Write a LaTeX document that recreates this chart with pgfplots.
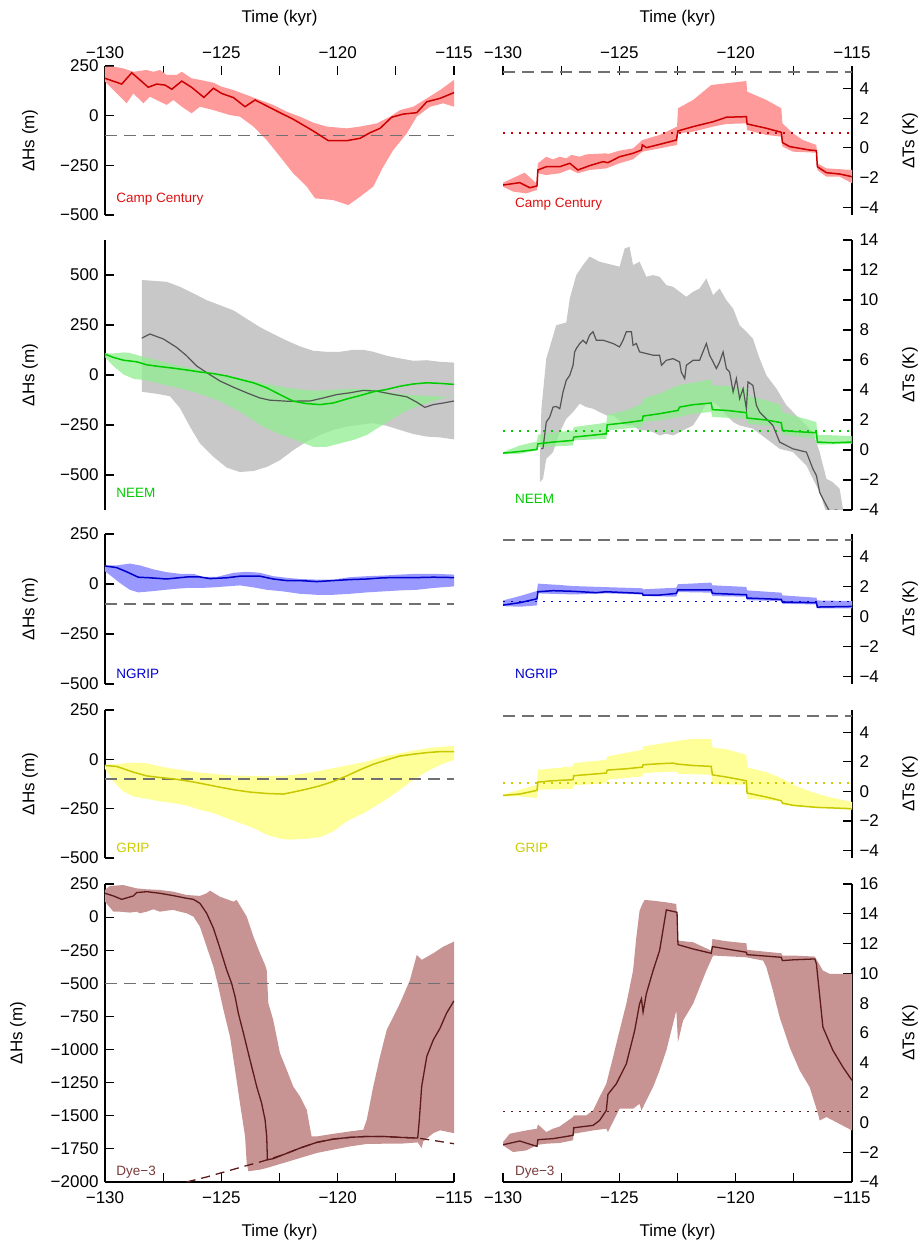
\documentclass[border=0pt]{standalone}
\usepackage{fontspec}
\setmainfont{Liberation Sans}
\usepackage{pgfplots}
\pgfplotsset{compat=1.18}
\definecolor{ccline}{HTML}{CC0000}
\definecolor{ccfill}{HTML}{FF9A9A}
\definecolor{cclab}{HTML}{DD1111}
\definecolor{neemline}{HTML}{00CC00}
\definecolor{neemfill}{HTML}{90EE90}
\definecolor{grayfill}{HTML}{C8C8C8}
\definecolor{grayline}{HTML}{555555}
\definecolor{ngripline}{HTML}{0000CC}
\definecolor{ngripfill}{HTML}{9999FF}
\definecolor{gripline}{HTML}{C8C800}
\definecolor{gripfill}{HTML}{FFFF99}
\definecolor{griplab}{HTML}{CCCC00}
\definecolor{dyeline}{HTML}{5C1A1A}
\definecolor{dyefill}{HTML}{C79393}
\definecolor{dyelab}{HTML}{7A3A3A}
\definecolor{dashgray}{HTML}{707070}
\newcommand{\tf}{\fontsize{17}{20}\selectfont}
\newcommand{\sitef}{\fontsize{13.5}{16}\selectfont}
\tikzset{site/.style={anchor=west, inner sep=0pt, font=\sitef}}
\pgfplotsset{
  base/.style={scale only axis, width=349pt, xmin=-130, xmax=-115, anchor=south west,
    tick align=inside, major tick length=9pt, minor tick length=0pt,
    axis line style={line width=1.3pt},
    every tick/.style={black, line width=1.1pt},
    tick label style={font=\tf},
    xtick={-130,-127.5,...,-115}, xticklabels={−130,,−125,,−120,,−115}},
  leftp/.style={base, axis y line*=left, ylabel={ΔHs (m)},
    yticklabel style={xshift=-3pt},
    every axis y label/.style={at={(rel axis cs:0,0.5)}, xshift=-75pt, rotate=90, anchor=center, font=\tf}},
  rightp/.style={base, axis y line*=right, ylabel={ΔTs (K)},
    yticklabel style={xshift=4pt},
    every axis y label/.style={at={(rel axis cs:1,0.5)}, xshift=58pt, rotate=90, anchor=center, font=\tf}},
  toprow/.style={axis x line*=top, x axis line style={draw=none}, xlabel={Time (kyr)},
    every axis x label/.style={at={(rel axis cs:0.5,1)}, yshift=48pt, anchor=center, font=\tf},
    xticklabel style={yshift=4pt}},
  midrow/.style={axis x line=none},
  botrow/.style={axis x line*=bottom, xlabel={Time (kyr)},
    every axis x label/.style={at={(rel axis cs:0.5,0)}, yshift=-50pt, anchor=center, font=\tf},
    xticklabel style={yshift=-6pt}},
  hs/.style={ymin=-500, ymax=250, ytick={-500,-250,0,250}, yticklabels={−500,−250,0,250}},
  ts/.style={ymin=-4.5, ymax=5.5, ytick={-4,-2,0,2,4}, yticklabels={−4,−2,0,2,4}},
  dashg/.style={color=dashgray, line width=1.6pt, dash pattern=on 12pt off 7pt},
  dotl/.style={line width=1.6pt, dash pattern=on 1.6pt off 6.4pt},
  ser/.style={line width=1.5pt},
}
\begin{document}
\begin{tikzpicture}
\path[use as bounding box] (0,0) rectangle (922pt,1243pt);

% ================= Row 1: Camp Century =================
\begin{axis}[leftp, toprow, hs, at={(105pt,1028pt)}, height=149pt]
\addplot[draw=none, fill=ccfill] coordinates {
(-130,247) (-129.64,247) (-129.21,238) (-128.78,221) (-128.21,230) (-127.92,221) (-127.64,230) (-127.35,205) (-126.92,205) (-126.70,221) (-126.28,188) (-125.92,180) (-125.34,166) (-124.99,146) (-124.48,129) (-123.91,104) (-123.34,79) (-122.77,54) (-122.19,20) (-121.62,-5) (-121.05,-35) (-120.47,-55) (-119.61,-64) (-119.04,-55) (-118.32,-39) (-117.75,-5) (-117.32,28) (-116.75,45) (-116.17,87) (-115.60,129) (-115,180)
(-115,45) (-115.46,62) (-116.03,45) (-116.60,-5) (-117.03,-89) (-117.61,-173) (-118.04,-257) (-118.47,-357) (-119.04,-408) (-119.54,-450) (-120.19,-425) (-120.97,-416) (-121.33,-357) (-121.91,-290) (-122.48,-206) (-123.05,-123) (-123.62,-55) (-124.20,-5) (-124.63,3) (-125.34,28) (-125.92,45) (-126.28,12) (-126.70,45) (-127.06,79) (-127.35,54) (-127.78,79) (-128.07,96) (-128.35,62) (-128.78,112) (-129.07,62) (-129.64,129) (-130,171)
} --cycle;
\addplot[dashg] coordinates {(-130,-100) (-115,-100)};
\addplot[ser, ccline] coordinates {
(-130,188) (-129.28,159) (-128.85,216) (-128.14,143) (-127.78,159) (-127.42,154) (-127.13,133) (-126.70,174) (-126.28,143) (-125.75,92) (-125.34,138) (-124.99,112) (-124.48,91) (-123.98,45) (-123.55,79) (-123.05,49) (-122.48,15) (-121.91,-18) (-121.05,-77) (-120.40,-126) (-119.61,-126) (-119.04,-114) (-118.61,-86) (-118.18,-64) (-117.68,-8) (-117.18,8) (-116.60,15) (-116.17,70) (-115.60,87) (-115,116)};
\node[site, text=cclab] at (rel axis cs:0.032,0.107) {Camp Century};
\end{axis}

\begin{axis}[rightp, toprow, ts, at={(503pt,1028pt)}, height=149pt]
\addplot[draw=none, fill=ccfill] coordinates {
(-130,-2.33) (-129.07,-1.66) (-128.57,-2.37) (-128.50,-1.03) (-128.14,-0.59) (-127.85,-0.77) (-127.56,-0.59) (-127.28,-0.70) (-127.06,-0.47) (-126.70,-0.59) (-126.42,-0.43) (-126.13,-0.41) (-125.56,-0.36) (-125.49,-0.41) (-124.99,-0.18) (-124.41,-0.03) (-124.01,0.53) (-123.27,0.87) (-122.52,1.43) (-122.48,2.66) (-121.83,3.22) (-121.05,4.22) (-120.40,4.34) (-119.54,4.49) (-119.51,3.78) (-118.68,3.22) (-118.04,2.66) (-117.99,1.65) (-117.54,0.98) (-117.11,0.53) (-116.53,0.20) (-116.49,-1.03) (-116.10,-1.37) (-115,-1.48)
(-115,-2.37) (-115.53,-1.93) (-116.10,-1.93) (-116.49,-1.48) (-116.53,-0.32) (-117.54,-0.25) (-117.99,0.09) (-118.04,0.76) (-118.68,0.87) (-119.51,1.20) (-119.54,1.65) (-120.40,1.61) (-120.97,1.43) (-121.83,1.09) (-122.48,0.98) (-122.52,0.20) (-123.27,-0.03) (-124.01,-0.25) (-124.41,-0.76) (-124.99,-1.03) (-125.56,-1.37) (-126.28,-1.48) (-126.78,-1.70) (-127.13,-1.44) (-127.56,-1.70) (-128.14,-1.82) (-128.50,-1.70) (-128.54,-2.82) (-129.0,-3.05) (-129.57,-2.93) (-130,-2.60)
} --cycle;
\addplot[dashg] coordinates {(-130,5.1) (-115,5.1)};
\addplot[dotl, ccline] coordinates {(-130,1.0) (-115,1.0)};
\addplot[ser, ccline] coordinates {
(-130,-2.49) (-129.28,-2.33) (-128.85,-2.67) (-128.54,-2.55) (-128.50,-1.48) (-128.14,-1.26) (-127.56,-1.26) (-127.13,-1.03) (-126.78,-1.48) (-126.28,-1.19) (-125.70,-0.92) (-125.49,-0.99) (-124.99,-0.59) (-124.41,-0.36) (-124.05,-0.14) (-124.01,0.20) (-123.84,0.02) (-123.27,0.24) (-122.55,0.53) (-122.48,1.14) (-121.83,1.43) (-120.97,1.76) (-120.40,2.06) (-119.54,2.10) (-119.51,1.61) (-118.68,1.32) (-118.04,1.05) (-117.99,0.36) (-117.68,0.09) (-116.82,-0.14) (-116.53,-0.18) (-116.49,-1.26) (-116.10,-1.66) (-115.53,-1.75) (-115,-1.93)};
\node[site, text=cclab] at (rel axis cs:0.034,0.074) {Camp Century};
\end{axis}

% ================= Row 2: NEEM =================
\begin{axis}[leftp, midrow, at={(105pt,733pt)}, height=270pt, ymin=-675, ymax=675,
  ytick={-500,-250,0,250,500}, yticklabels={−500,−250,0,250,500}]
\addplot[draw=none, fill=grayfill] coordinates {
(-128.42,475) (-127.35,466) (-126.78,441) (-126.20,408) (-125.63,374) (-125.06,349) (-124.48,323) (-123.91,281) (-123.34,239) (-122.77,205) (-122.19,172) (-121.62,143) (-121.05,121) (-120.47,116) (-119.90,116) (-119.33,126) (-118.90,126) (-118.47,116) (-117.89,96) (-117.32,83) (-116.75,71) (-116.17,74) (-115.60,66) (-115,62)
(-115,-322) (-115.60,-312) (-116.17,-308) (-116.75,-295) (-117.32,-275) (-117.89,-254) (-118.47,-241) (-119.04,-249) (-119.61,-258) (-120.19,-275) (-120.76,-300) (-121.33,-333) (-121.91,-376) (-122.48,-426) (-123.05,-460) (-123.62,-480) (-124.20,-485) (-124.77,-463) (-125.34,-409) (-125.92,-342) (-126.35,-258) (-126.78,-165) (-127.21,-106) (-127.78,-94) (-128.42,-84)
} --cycle;
\addplot[draw=none, fill=neemfill, fill opacity=0.75] coordinates {
(-130,109) (-129.64,108) (-129.21,113) (-128.93,110) (-128.50,96) (-127.92,79) (-127.35,62) (-126.78,45) (-126.20,32) (-125.63,17) (-125.06,3) (-124.48,-8) (-123.91,-22) (-123.34,-39) (-122.77,-51) (-122.19,-64) (-121.62,-72) (-121.05,-79) (-120.47,-76) (-119.90,-72) (-119.33,-69) (-118.75,-69) (-118.18,-76) (-117.61,-89) (-117.03,-98) (-116.46,-103) (-115.89,-106) (-115.46,-109) (-115,-109)
(-115,-106) (-115.46,-115) (-115.89,-131) (-116.46,-153) (-117.03,-178) (-117.61,-216) (-118.18,-258) (-118.75,-300) (-119.33,-325) (-119.90,-342) (-120.47,-359) (-121.05,-359) (-121.62,-333) (-122.19,-308) (-122.77,-283) (-123.34,-249) (-123.91,-204) (-124.48,-165) (-125.06,-131) (-125.63,-106) (-126.20,-84) (-126.78,-67) (-127.35,-52) (-127.92,-35) (-128.35,-25) (-128.78,-19) (-129.21,3) (-129.64,45) (-130,88)
} --cycle;
\addplot[line width=1.2pt, grayline] coordinates {
(-128.42,184) (-128.07,205) (-127.49,180) (-126.92,138) (-126.49,96) (-126.06,45) (-125.63,12) (-125.06,-30) (-124.48,-61) (-123.91,-89) (-123.34,-115) (-122.91,-126) (-122.19,-131) (-121.19,-130) (-120.62,-115) (-120.04,-98) (-119.47,-89) (-118.90,-77) (-118.32,-81) (-117.75,-94) (-117.03,-109) (-116.60,-136) (-116.25,-162) (-115.89,-148) (-115.46,-140) (-115,-130)};
\addplot[ser, neemline] coordinates {
(-130,104) (-129.64,88) (-129.21,74) (-128.64,66) (-128.21,51) (-127.64,42) (-127.06,34) (-126.49,25) (-125.92,15) (-125.34,7) (-124.77,-5) (-124.20,-22) (-123.62,-39) (-123.05,-64) (-122.48,-98) (-121.91,-131) (-121.33,-143) (-120.76,-148) (-120.19,-140) (-119.61,-120) (-119.04,-103) (-118.47,-84) (-117.89,-72) (-117.32,-56) (-116.75,-45) (-116.17,-39) (-115.60,-42) (-115,-47)};
\node[site, text=neemline] at (rel axis cs:0.032,0.063) {NEEM};
\end{axis}

\begin{axis}[rightp, midrow, at={(503pt,733pt)}, height=270pt, ymin=-4, ymax=14,
  ytick={-4,-2,...,14}, yticklabels={−4,−2,0,2,4,6,8,10,12,14}]
\addplot[draw=none, fill=grayfill] coordinates {
(-128.42,-1.03) (-128.35,2.75) (-128.14,6.09) (-127.71,8.32) (-127.28,8.5) (-127.13,10.10) (-126.85,11.66) (-126.56,12.33) (-126.28,12.89) (-126.13,12.78) (-125.85,12.55) (-125.56,12.44) (-125.27,12.33) (-124.99,12.22) (-124.77,13.44) (-124.56,13.55) (-124.41,12.33) (-124.13,12.55) (-123.84,11.55) (-123.55,11.66) (-123.27,11.55) (-122.98,10.99) (-122.69,10.88) (-122.41,10.55) (-122.12,10.21) (-121.83,10.55) (-121.55,10.77) (-121.26,11.44) (-120.97,10.32) (-120.69,10.77) (-120.40,9.99) (-120.11,9.43) (-119.83,8.32) (-119.54,7.88) (-119.26,7.43) (-118.97,6.09) (-118.68,4.98) (-118.25,4.09) (-117.82,2.98) (-117.25,2.08) (-116.68,1.19) (-116.39,-0.14) (-116.10,-1.92) (-115.82,-2.15) (-115.53,-2.59) (-115.39,-3.93) (-115.39,-4.5)
(-115.67,-4.5) (-116.10,-4.2) (-116.39,-2.82) (-116.68,-1.92) (-116.96,-1.03) (-117.54,-0.14) (-118.11,0.08) (-118.68,0.75) (-119.26,1.42) (-119.83,1.64) (-120.11,1.86) (-120.40,2.31) (-120.69,2.86) (-120.97,3.20) (-121.26,3.09) (-121.55,2.31) (-121.83,1.64) (-122.12,1.42) (-122.41,1.19) (-122.69,0.97) (-122.98,1.08) (-123.27,0.97) (-123.55,1.19) (-123.84,1.31) (-124.13,1.31) (-124.41,1.64) (-124.70,1.64) (-124.99,1.97) (-125.27,2.31) (-125.56,2.31) (-125.85,2.53) (-126.13,2.75) (-126.42,2.86) (-126.70,3.09) (-126.99,2.53) (-127.28,2.08) (-127.56,1.19) (-127.71,0.53) (-127.85,-0.14) (-128.14,-0.59) (-128.28,-1.92) (-128.42,-2.15)
} --cycle;
\addplot[draw=none, fill=neemfill, fill opacity=0.75] coordinates {
(-130,-0.14) (-129.28,0.30) (-128.54,0.57) (-128.50,1.02) (-126.99,1.31) (-126.96,1.53) (-125.56,1.82) (-125.52,2.35) (-124.70,2.64) (-124.01,3.09) (-123.98,3.42) (-123.27,3.76) (-122.48,4.31) (-121.83,4.49) (-121.05,4.71) (-121.0,4.31) (-120.40,4.27) (-119.54,4.09) (-119.51,3.64) (-118.68,3.31) (-118.04,2.98) (-117.99,2.53) (-117.54,2.31) (-116.53,1.86) (-116.49,1.02) (-115,0.93)
(-115,0.41) (-116.49,0.35) (-116.53,0.75) (-117.99,1.02) (-118.04,1.53) (-119.51,1.75) (-119.54,2.08) (-121.0,2.20) (-121.05,2.53) (-121.83,2.42) (-122.48,2.20) (-123.27,1.97) (-123.98,1.86) (-124.01,1.53) (-125.52,1.31) (-125.56,0.75) (-126.96,0.64) (-126.99,0.30) (-128.50,0.19) (-128.54,-0.03) (-129.28,-0.25) (-130,-0.28)
} --cycle;
\addplot[dotl, neemline] coordinates {(-130,1.25) (-115,1.25)};
\addplot[line width=1.2pt, grayline] coordinates {
(-128.35,0.08) (-128.28,0.12) (-128.14,1.86) (-127.99,2.20) (-127.85,2.86) (-127.71,2.9) (-127.56,2.75) (-127.42,3.87) (-127.28,4.65) (-127.13,4.98) (-126.99,5.65) (-126.92,6.54) (-126.85,6.76) (-126.70,7.10) (-126.56,7.32) (-126.42,7.10) (-126.28,7.65) (-126.13,7.88) (-125.99,7.32) (-125.70,7.32) (-125.27,7.10) (-124.99,6.87) (-124.84,7.32) (-124.70,7.88) (-124.48,7.88) (-124.41,6.98) (-124.27,7.1) (-124.13,6.54) (-123.84,6.43) (-123.55,6.32) (-123.27,6.32) (-123.19,5.65) (-122.98,5.98) (-122.69,6.09) (-122.41,5.87) (-122.34,5.20) (-122.19,4.76) (-122.12,5.65) (-121.83,5.98) (-121.55,5.98) (-121.26,7.10) (-121.12,6.32) (-120.97,5.87) (-120.83,5.43) (-120.69,5.87) (-120.54,6.54) (-120.40,5.43) (-120.26,5.20) (-120.11,3.87) (-119.97,4.76) (-119.83,3.42) (-119.68,4.09) (-119.54,2.75) (-119.47,4.54) (-119.26,4.31) (-119.11,2.98) (-118.97,2.53) (-118.68,2.08) (-118.40,1.64) (-118.11,0.53) (-117.82,0.30) (-117.54,0.08) (-117.25,-0.03) (-116.96,-0.14) (-116.68,-1.26) (-116.53,-1.70) (-116.39,-2.82) (-116.10,-3.71) (-115.96,-4.1) (-115.67,-4.0) (-115.53,-4.2)};
\addplot[ser, neemline] coordinates {
(-130,-0.21) (-129.28,-0.10) (-128.54,0.04) (-128.50,0.41) (-127.85,0.53) (-126.99,0.64) (-126.96,0.86) (-125.56,1.08) (-125.52,1.68) (-124.70,1.82) (-124.01,1.97) (-123.98,2.26) (-123.27,2.42) (-122.48,2.64) (-122.41,2.86) (-121.83,3.02) (-121.05,3.13) (-121.0,2.69) (-120.40,2.64) (-119.54,2.49) (-119.51,2.13) (-118.68,2.0) (-118.04,1.82) (-117.99,1.31) (-117.54,1.24) (-116.53,1.15) (-116.49,0.53) (-115.82,0.48) (-115,0.53)};
\node[site, text=neemline] at (rel axis cs:0.034,0.041) {NEEM};
\end{axis}

% ================= Row 3: NGRIP =================
\begin{axis}[leftp, midrow, hs, at={(105pt,559pt)}, height=150pt]
\addplot[draw=none, fill=ngripfill] coordinates {
(-130,93) (-129.50,93) (-128.93,102) (-128.50,93) (-127.92,73) (-127.35,59) (-126.78,51) (-126.20,51) (-125.77,35) (-125.20,35) (-124.48,56) (-123.91,61) (-123.34,56) (-122.77,39) (-122.19,31) (-121.62,25) (-120.90,22) (-120.19,22) (-119.47,34) (-118.75,39) (-118.04,42) (-117.32,47) (-116.60,51) (-115.89,51) (-115,47)
(-115,-12) (-115.89,-20) (-116.60,-29) (-117.32,-32) (-118.04,-37) (-118.75,-42) (-119.47,-49) (-120.19,-54) (-120.90,-54) (-121.62,-49) (-122.34,-37) (-123.05,-29) (-123.62,-17) (-124.20,-7) (-124.77,-12) (-125.34,-17) (-125.92,-20) (-126.49,-20) (-127.06,-25) (-127.64,-32) (-128.07,-37) (-128.57,-42) (-128.93,-29) (-129.36,5) (-129.64,31) (-130,64)
} --cycle;
\addplot[dashg] coordinates {(-130,-100) (-115,-100)};
\addplot[ser, ngripline] coordinates {
(-130,90) (-129.50,82) (-129.07,61) (-128.57,34) (-128.07,31) (-127.35,25) (-126.49,35) (-125.92,35) (-125.49,27) (-124.77,31) (-124.20,39) (-123.34,39) (-122.77,25) (-122.19,17) (-121.62,17) (-120.90,12) (-120.19,17) (-119.47,22) (-118.75,25) (-118.04,31) (-117.32,32) (-116.60,32) (-115.89,34) (-115,32)};
\node[site, text=ngripline] at (rel axis cs:0.032,0.067) {NGRIP};
\end{axis}

\begin{axis}[rightp, midrow, ts, at={(503pt,559pt)}, height=150pt]
\addplot[draw=none, fill=ngripfill] coordinates {
(-130,1.07) (-129.28,1.36) (-128.54,1.70) (-128.50,2.19) (-127.56,2.10) (-126.99,2.03) (-125.85,1.97) (-124.01,1.88) (-123.98,1.81) (-122.55,1.92) (-122.48,2.15) (-121.05,2.26) (-121.0,2.08) (-119.54,1.97) (-119.51,1.74) (-118.04,1.59) (-117.99,1.41) (-116.53,1.25) (-116.49,1.07) (-115,1.03)
(-115,0.54) (-116.49,0.54) (-116.53,0.80) (-117.99,0.85) (-118.04,1.03) (-119.51,1.09) (-119.54,1.32) (-121.0,1.36) (-121.05,1.59) (-122.48,1.63) (-122.55,1.32) (-123.98,1.36) (-124.01,1.47) (-125.56,1.54) (-126.99,1.47) (-128.50,1.54) (-128.54,0.74) (-129.28,0.65) (-130,0.69)
} --cycle;
\addplot[dashg] coordinates {(-130,5.1) (-115,5.1)};
\addplot[dotl, ngripline] coordinates {(-130,1.0) (-115,1.0)};
\addplot[ser, ngripline] coordinates {
(-130,0.76) (-129.28,0.92) (-128.54,1.18) (-128.50,1.65) (-127.85,1.72) (-126.99,1.68) (-125.99,1.59) (-125.56,1.65) (-124.01,1.54) (-123.98,1.43) (-123.27,1.43) (-122.55,1.54) (-122.48,1.77) (-121.05,1.77) (-121.0,1.54) (-119.54,1.45) (-119.51,1.23) (-118.04,1.14) (-117.99,0.96) (-116.53,0.92) (-116.49,0.63) (-115,0.67)};
\node[site, text=ngripline] at (rel axis cs:0.034,0.067) {NGRIP};
\end{axis}

% ================= Row 4: GRIP =================
\begin{axis}[leftp, midrow, hs, at={(105pt,385pt)}, height=148pt]
\addplot[draw=none, fill=gripfill] coordinates {
(-130,-28) (-129.50,-25) (-128.78,-16) (-128.21,-20) (-127.64,-36) (-127.06,-48) (-126.49,-58) (-125.92,-67) (-125.20,-75) (-124.48,-82) (-123.77,-84) (-123.05,-84) (-122.34,-84) (-121.62,-75) (-120.90,-62) (-120.19,-45) (-119.47,-28) (-118.75,-11) (-118.04,14) (-117.32,31) (-116.60,48) (-115.89,60) (-115,68)
(-115,-3) (-115.60,-28) (-116.17,-62) (-116.75,-104) (-117.32,-154) (-118.04,-213) (-118.75,-264) (-119.33,-298) (-119.61,-314) (-120.19,-365) (-120.76,-395) (-121.33,-402) (-122.05,-407) (-122.48,-402) (-123.05,-382) (-123.62,-348) (-124.20,-323) (-124.77,-298) (-125.34,-272) (-125.92,-256) (-126.49,-234) (-127.06,-222) (-127.64,-213) (-128.21,-200) (-128.78,-188) (-129.21,-163) (-129.64,-112) (-130,-48)
} --cycle;
\addplot[dashg] coordinates {(-130,-100) (-115,-100)};
\addplot[ser, gripline] coordinates {
(-130,-31) (-129.50,-36) (-128.78,-65) (-128.21,-84) (-127.64,-92) (-127.06,-99) (-126.49,-109) (-125.92,-121) (-125.20,-138) (-124.48,-154) (-123.77,-166) (-123.05,-173) (-122.34,-176) (-121.91,-166) (-121.33,-151) (-120.76,-134) (-120.19,-112) (-119.61,-84) (-119.04,-53) (-118.47,-25) (-117.89,-3) (-117.32,17) (-116.75,26) (-116.17,34) (-115.60,39) (-115,39)};
\node[site, text=griplab] at (rel axis cs:0.032,0.068) {GRIP};
\end{axis}

\begin{axis}[rightp, midrow, ts, at={(503pt,385pt)}, height=148pt]
\addplot[draw=none, fill=gripfill] coordinates {
(-130,-0.22) (-129.28,0.11) (-128.54,0.45) (-128.50,1.46) (-126.99,1.69) (-126.96,1.91) (-125.56,2.13) (-125.52,2.36) (-124.01,2.81) (-123.98,3.03) (-122.48,3.42) (-121.83,3.55) (-121.05,3.53) (-121.0,2.97) (-120.40,2.85) (-119.54,2.47) (-119.51,1.62) (-118.68,1.30) (-118.04,0.90) (-117.54,0.45) (-116.82,0.0) (-116.10,-0.34) (-115,-0.72)
(-115,-1.24) (-116.10,-1.12) (-117.54,-1.01) (-117.99,-0.90) (-118.04,-0.67) (-119.51,-0.49) (-119.54,0.45) (-121.0,0.49) (-121.05,1.12) (-122.48,1.19) (-122.55,1.35) (-123.98,1.24) (-124.01,1.01) (-125.52,0.79) (-125.56,0.56) (-126.96,0.40) (-126.99,0.18) (-128.50,0.11) (-128.54,-0.45) (-129.28,-0.34) (-130,-0.34)
} --cycle;
\addplot[dashg] coordinates {(-130,5.1) (-115,5.1)};
\addplot[dotl, griplab] coordinates {(-130,0.55) (-115,0.55)};
\addplot[ser, gripline] coordinates {
(-130,-0.27) (-129.28,-0.18) (-128.54,0.07) (-128.50,0.63) (-127.85,0.72) (-126.99,0.79) (-126.96,1.06) (-125.56,1.24) (-125.52,1.44) (-124.70,1.53) (-124.01,1.64) (-123.98,1.80) (-123.27,1.87) (-122.69,1.91) (-122.48,1.84) (-121.83,1.75) (-121.05,1.69) (-121.0,1.12) (-120.40,0.97) (-119.54,0.72) (-119.51,-0.11) (-118.68,-0.38) (-118.04,-0.63) (-117.99,-0.79) (-117.54,-0.94) (-116.53,-1.08) (-115.82,-1.12) (-115,-1.17)};
\node[site, text=griplab] at (rel axis cs:0.034,0.068) {GRIP};
\end{axis}

% ================= Row 5: Dye-3 =================
\begin{axis}[leftp, botrow, at={(105pt,61pt)}, height=298pt, ymin=-2000, ymax=250,
  ytick={-2000,-1750,...,250}, yticklabels={−2000,−1750,−1500,−1250,−1000,−750,−500,−250,0,250},
  every axis y label/.style={at={(rel axis cs:0,0.5)}, xshift=-87pt, rotate=90, anchor=center, font=\tf}]
\addplot[draw=none, fill=dyefill] coordinates {
(-130,205) (-129.79,235) (-129.21,242) (-128.64,217) (-128.21,210) (-127.64,205) (-127.06,192) (-126.49,167) (-125.92,160) (-125.63,180) (-125.49,200) (-125.06,154) (-124.48,117) (-124.34,129) (-123.91,4) (-123.62,-147) (-123.34,-273) (-123.12,-361) (-123.05,-399) (-122.98,-650) (-122.77,-776) (-122.48,-1027) (-122.19,-1153) (-121.91,-1279) (-121.62,-1354) (-121.33,-1455) (-121.12,-1656) (-120.90,-1656) (-120.19,-1636) (-119.47,-1618) (-118.90,-1605) (-118.75,-1530) (-118.47,-1279) (-118.18,-1052) (-117.89,-851) (-117.32,-650) (-116.89,-474) (-116.60,-285) (-116.39,-323) (-115.89,-273) (-115.46,-223) (-115,-185)
(-115,-1631) (-115.60,-1610) (-115.89,-1631) (-116.32,-1693) (-116.39,-1744) (-116.56,-1701) (-117.32,-1711) (-118.04,-1711) (-118.75,-1713) (-119.47,-1731) (-120.19,-1756) (-120.90,-1781) (-121.62,-1819) (-122.34,-1857) (-123.05,-1894) (-123.34,-1907) (-123.84,-1919) (-123.91,-1857) (-123.98,-1656) (-124.20,-1404) (-124.41,-1153) (-124.63,-901) (-124.91,-700) (-125.13,-524) (-125.34,-373) (-125.63,-223) (-125.92,-72) (-126.20,4) (-126.49,29) (-126.78,41) (-127.06,54) (-127.35,49) (-127.64,41) (-127.92,59) (-128.21,41) (-128.50,29) (-128.64,41) (-128.93,34) (-129.36,41) (-129.64,41) (-130,117)
} --cycle;
\addplot[dashg] coordinates {(-130,-500) (-115,-500)};
\addplot[line width=1.3pt, dyeline, dash pattern=on 9pt off 6pt] coordinates {
(-126.49,-2000) (-125.63,-1962) (-124.77,-1919) (-123.91,-1876) (-123.34,-1849) (-123.02,-1832) (-122.34,-1794) (-121.62,-1744) (-120.90,-1701) (-120.19,-1676) (-119.47,-1663) (-118.75,-1656) (-118.04,-1656) (-117.32,-1663) (-116.56,-1668) (-115.89,-1686) (-115,-1711)};
\addplot[line width=1.3pt, dyeline] coordinates {
(-130,180) (-129.64,160) (-129.28,134) (-128.78,160) (-128.64,185) (-128.21,192) (-127.64,180) (-127.06,162) (-126.49,142) (-126.20,134) (-125.92,104) (-125.63,29) (-125.34,-84) (-125.06,-235) (-124.77,-399) (-124.56,-499) (-124.41,-600) (-124.27,-725) (-124.05,-876) (-123.77,-1077) (-123.48,-1279) (-123.27,-1404) (-123.12,-1530) (-123.05,-1656) (-123.02,-1832) (-122.77,-1824) (-122.34,-1794) (-121.62,-1744) (-120.90,-1701) (-120.19,-1676) (-119.47,-1663) (-118.75,-1656) (-118.04,-1656) (-117.32,-1663) (-116.56,-1668) (-116.49,-1530) (-116.39,-1279) (-116.17,-1052) (-115.89,-927) (-115.60,-839) (-115.32,-725) (-115,-632)};
\node[site, text=dyelab] at (rel axis cs:0.032,0.034) {Dye−3};
\end{axis}

\begin{axis}[rightp, botrow, at={(503pt,61pt)}, height=298pt, ymin=-4, ymax=16,
  ytick={-4,-2,...,16}, yticklabels={−4,−2,0,2,4,6,8,10,12,14,16}]
\addplot[draw=none, fill=dyefill] coordinates {
(-130,-1.32) (-129.71,-0.76) (-129.0,-0.54) (-128.54,-0.42) (-128.50,-0.13) (-128.14,-0.65) (-127.85,-0.42) (-127.56,-0.27) (-126.99,0.36) (-126.96,0.47) (-126.42,0.47) (-126.13,0.80) (-125.85,1.70) (-125.56,2.59) (-125.27,4.38) (-124.99,6.17) (-124.70,7.96) (-124.41,10.19) (-124.27,12.42) (-124.13,14.21) (-124.01,14.66) (-123.91,14.93) (-123.55,14.88) (-122.98,14.77) (-122.55,14.66) (-122.48,12.20) (-121.83,12.09) (-121.05,11.53) (-121.0,12.31) (-120.40,12.16) (-119.54,12.02) (-119.51,11.58) (-118.04,11.35) (-117.99,11.20) (-117.54,11.20) (-116.60,11.13) (-116.25,10.19) (-115.96,9.97) (-115,9.97)
(-115,-0.54) (-116.10,0.36) (-116.39,0.13) (-116.46,0.58) (-116.82,2.37) (-117.25,3.49) (-117.68,5.05) (-118.11,7.06) (-118.40,8.85) (-118.68,10.41) (-118.82,10.86) (-119.54,11.08) (-120.97,11.20) (-121.26,10.19) (-121.83,7.96) (-122.26,6.84) (-122.48,5.39) (-122.55,7.51) (-122.98,4.83) (-123.27,3.49) (-123.55,2.37) (-123.84,1.47) (-124.05,0.80) (-124.13,1.25) (-124.41,0.92) (-124.99,0.92) (-125.49,-0.65) (-125.56,-0.42) (-126.13,-0.54) (-126.96,-0.76) (-126.99,-1.20) (-127.56,-1.38) (-128.14,-1.43) (-128.50,-1.50) (-129.0,-1.88) (-129.57,-1.99) (-130,-1.54)
} --cycle;
\addplot[dotl, dyeline] coordinates {(-130,0.74) (-115,0.74)};
\addplot[line width=1.3pt, dyeline] coordinates {
(-130,-1.50) (-129.28,-1.25) (-128.54,-1.61) (-128.50,-1.16) (-127.85,-1.09) (-126.99,-0.87) (-126.96,-0.36) (-126.13,-0.20) (-125.85,0.13) (-125.56,0.80) (-125.49,1.88) (-125.13,2.59) (-124.70,3.93) (-124.34,6.17) (-124.13,7.96) (-124.05,8.29) (-123.98,7.40) (-123.84,8.63) (-123.55,10.19) (-123.27,11.53) (-122.98,14.26) (-122.52,14.10) (-122.48,11.93) (-121.83,11.64) (-121.05,11.35) (-121.0,11.80) (-120.40,11.64) (-119.54,11.42) (-119.51,11.26) (-118.04,11.08) (-117.99,10.86) (-117.54,10.91) (-116.60,10.97) (-116.53,10.64) (-116.25,6.39) (-115.82,4.83) (-115.39,3.71) (-115,2.82)};
\node[site, text=dyelab] at (rel axis cs:0.034,0.034) {Dye−3};
\end{axis}
\end{tikzpicture}
\end{document}
